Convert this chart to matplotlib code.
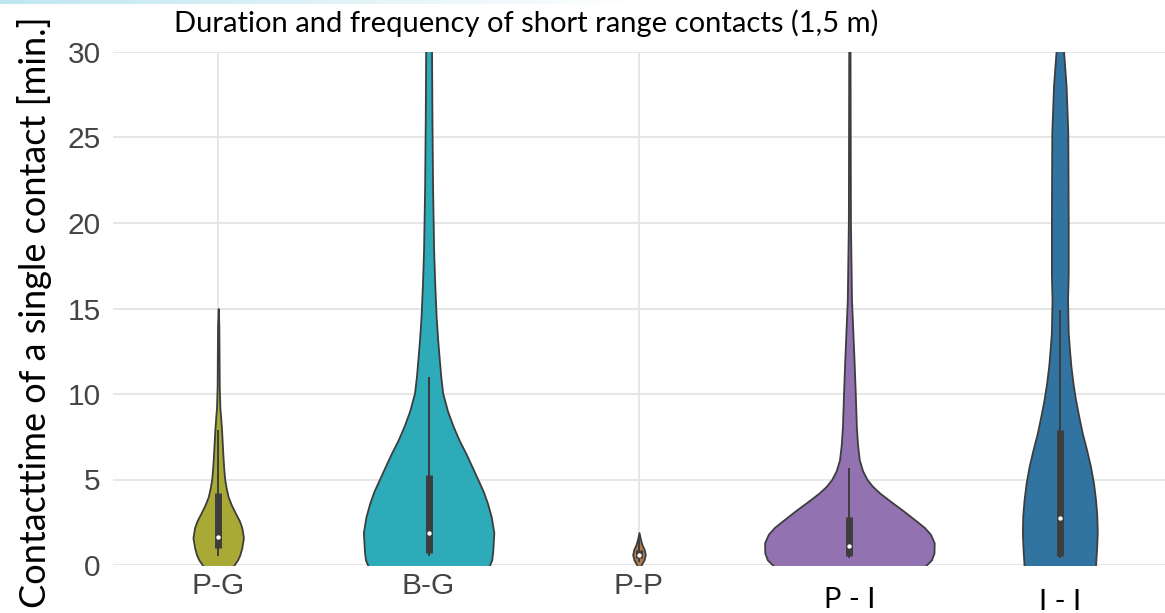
import colorsys

import numpy as np
import matplotlib
matplotlib.use("Agg")
import matplotlib.pyplot as plt
from matplotlib import colors as mcolors

categories = ["P-G", "B-G", "P-P", "P - I", "I - I"]

# violin outlines: y [min.] and half width (category units)
pg_y = [-0.5, 0.0, 0.3, 0.6, 1.0, 1.6, 2.2, 2.6, 3.0, 3.5, 4.0, 4.5, 5.0, 5.7, 6.5, 7.2,
        7.9, 8.6, 9.2, 10.5, 12.5, 14.0, 15.0]
pg_w = [0.06, 0.075, 0.092, 0.103, 0.112, 0.12, 0.112, 0.1, 0.083, 0.063, 0.047, 0.038,
        0.031, 0.026, 0.022, 0.019, 0.016, 0.012, 0.008, 0.005, 0.004, 0.003, 0.0]

bg_y = [-0.5, 0.0, 0.3, 0.8, 1.9, 2.8, 3.6, 4.3, 5.0, 5.7, 6.5, 7.3, 8.1, 9.0, 10.05,
        11.0, 12.0, 13.2, 14.5, 16.5, 18.4, 22.0, 26.0, 30.0, 31.0]
bg_w = [0.28, 0.29, 0.30, 0.305, 0.31, 0.298, 0.28, 0.26, 0.234, 0.208, 0.178, 0.145,
        0.117, 0.09, 0.067, 0.058, 0.051, 0.043, 0.036, 0.029, 0.024, 0.019, 0.016,
        0.014, 0.013]

pp_y = [-0.3, 0.0, 0.3, 0.6, 0.9, 1.2, 1.5, 1.9]
pp_w = [0.006, 0.01, 0.024, 0.03, 0.025, 0.014, 0.007, 0.0]

pi_y = [-0.5, 0.0, 0.3, 0.7, 1.3, 1.8, 2.2, 2.7, 3.2, 3.7, 4.2, 4.6, 5.0, 5.5, 6.15,
        7.0, 8.1, 10.0, 12.0, 15.5, 20.0, 25.0, 30.0, 31.0]
pi_w = [0.33, 0.365, 0.39, 0.402, 0.403, 0.385, 0.356, 0.305, 0.253, 0.198, 0.145, 0.11,
        0.084, 0.063, 0.047, 0.039, 0.033, 0.028, 0.022, 0.01, 0.005, 0.004, 0.003,
        0.003]

ii_y = [-0.5, 0.0, 1.0, 1.9, 2.9, 3.8, 4.8, 5.75, 6.7, 7.7, 8.7, 9.65, 10.6, 11.6, 12.6,
        13.6, 15.5, 17.0, 20.0, 23.0, 25.3, 28.0, 30.0, 31.0]
ii_w = [0.168, 0.17, 0.175, 0.178, 0.176, 0.17, 0.16, 0.146, 0.128, 0.107, 0.09, 0.075,
        0.063, 0.053, 0.046, 0.04, 0.037, 0.04, 0.04, 0.039, 0.038, 0.03, 0.018, 0.01]

# inner box plot
q1 = [1.0, 0.7, 0.4, 0.5, 0.5]
median = [1.65, 1.9, 0.6, 1.1, 2.75]
q3 = [4.2, 5.25, 0.9, 2.8, 7.9]
whisker_lo = [0.5, 0.5, 0.2, 0.4, 0.4]
whisker_hi = [7.9, 11.0, 1.7, 5.7, 14.9]

profiles = [(pg_y, pg_w), (bg_y, bg_w), (pp_y, pp_w), (pi_y, pi_w), (ii_y, ii_w)]
base_colors = ["tab:olive", "tab:cyan", "#c07a3a", "tab:purple", "tab:blue"]


def desaturate(c, prop=0.75):
    h, l, s = colorsys.rgb_to_hls(*mcolors.to_rgb(c))
    return colorsys.hls_to_rgb(h, l, s * prop)


W, H = 1165, 613
fig = plt.figure(figsize=(W / 100, H / 100), dpi=100)
ax = fig.add_axes([113 / W, 48 / H, 1 - 113 / W, 513 / H])

line_c = "#3d3d3d"
for i, (y, w) in enumerate(profiles):
    y = np.asarray(y)
    w = np.asarray(w)
    ax.fill_betweenx(y, i - w, i + w, facecolor=desaturate(base_colors[i]),
                     edgecolor=line_c, lw=1.3, zorder=2)
    ax.vlines(i, whisker_lo[i], whisker_hi[i], color=line_c, lw=1.4, zorder=3)
    ax.vlines(i, q1[i], q3[i], color=line_c, lw=5, zorder=3)
    ax.scatter(i, median[i], s=10, color="white", zorder=4, linewidths=0)

ax.set_xlim(-0.5, 4.5)
ax.set_ylim(0, 30)
ax.set_yticks(np.arange(0, 31, 5))
ax.set_xticks(range(len(categories)))
ax.set_xticklabels(categories[:3] + ["", ""])
ax.grid(True, color="#e4e4e4", lw=1.3)
ax.set_axisbelow(True)
for s in ax.spines.values():
    s.set_visible(False)
ax.tick_params(axis="both", length=0, labelsize=21.5, labelcolor="#444444",
               labelfontfamily="Liberation Sans")
ax.tick_params(axis="x", pad=5)
ax.tick_params(axis="y", pad=9)

# the last two labels were typed in another font, a bit lower
ax.text(3, -0.084, categories[3], transform=ax.get_xaxis_transform(), ha="center",
        va="baseline", fontsize=21, family="Lato", color="black")
ax.text(4, -0.088, categories[4], transform=ax.get_xaxis_transform(), ha="center",
        va="baseline", fontsize=21, family="Lato", color="black")

fig.text(526 / W, 1 - 23 / H, "Duration and frequency of short range contacts (1,5 m)",
         ha="center", va="center", fontsize=21, family="Lato", color="black")
fig.text(35 / W, 1 - 312 / H, "Contacttime of a single contact [min.]", rotation=90,
         ha="center", va="center", fontsize=26, family="Lato", color="black")

# faint blue band along the top edge
band = fig.add_axes([0, 1 - 4 / H, 0.55, 4 / H])
grad = np.linspace(0, 1, 256)[None, :]
band.imshow(grad, aspect="auto", cmap=mcolors.LinearSegmentedColormap.from_list(
    "band", ["#bfe6f1", "#ffffff"]))
band.axis("off")

fig.savefig("out.png", dpi=100)
